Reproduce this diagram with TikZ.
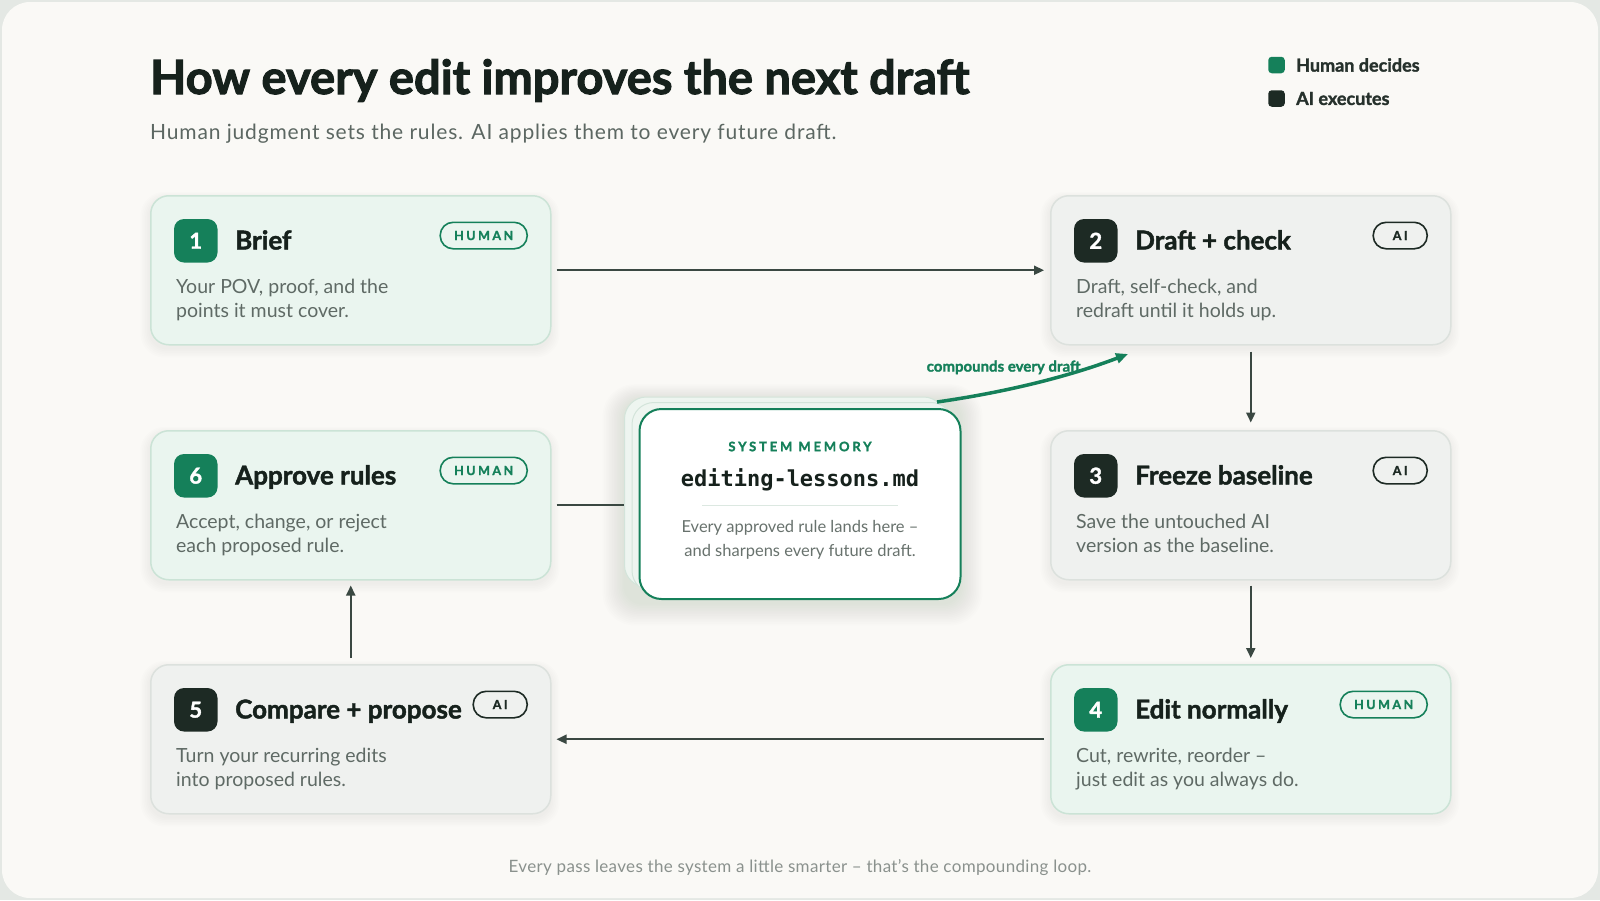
\documentclass[tikz,border=0pt]{standalone}
\usepackage{fontspec}
\setmainfont{Lato}
\setmonofont{DejaVu Sans Mono}
\newfontfamily\heavytitle{Lato}[BoldFeatures={FakeBold=2.2}]
\newfontfamily\heavy{Lato}[BoldFeatures={FakeBold=1.6}]
\usetikzlibrary{arrows.meta,calc}
\definecolor{outerbg}{HTML}{E4E8E4}
\definecolor{pagebg}{HTML}{FAF9F6}
\definecolor{brandgreen}{HTML}{15805A}
\definecolor{inkdark}{HTML}{1D2A24}
\definecolor{arrowc}{HTML}{3A4842}
\definecolor{titlec}{HTML}{16211C}
\definecolor{greytext}{HTML}{5F6A65}
\definecolor{subc}{HTML}{5C6762}
\definecolor{hfill}{HTML}{EAF5EF}
\definecolor{hline}{HTML}{CBE3D6}
\definecolor{afill}{HTML}{EFF1EF}
\definecolor{aline}{HTML}{DCE1DD}
\definecolor{memback}{HTML}{EEF5F0}
\definecolor{membackline}{HTML}{D3E4DA}
\definecolor{divc}{HTML}{DCE8E1}
\definecolor{memtext}{HTML}{68726D}
\definecolor{footc}{HTML}{8A918D}
\definecolor{legc}{HTML}{26312C}
\definecolor{shadowc}{HTML}{3F6A55}

\tikzset{
  cardbase/.style={line width=1.5pt, rounded corners=18pt, minimum width=400pt, minimum height=149pt, inner sep=0pt},
  cardh/.style={cardbase, draw=hline, fill=hfill},
  carda/.style={cardbase, draw=aline, fill=afill},
  badgebase/.style={rounded corners=10pt, minimum size=43.5pt, inner sep=0pt, text=white,
    font=\heavy\fontsize{22pt}{22pt}\selectfont\bfseries},
  badgeh/.style={badgebase, fill=brandgreen},
  badgea/.style={badgebase, fill=inkdark},
  steptitle/.style={text=titlec, font=\heavy\fontsize{26pt}{26pt}\selectfont\bfseries, inner sep=0pt},
  stepdesc/.style={text=greytext, font=\fontsize{19.5pt}{20pt}\selectfont, inner sep=0pt},
  pillbase/.style={line width=1.6pt, rounded corners=13pt, minimum height=26.5pt, inner sep=0pt,
    font=\heavy\fontsize{12.5pt}{12.5pt}\selectfont\bfseries\addfontfeatures{LetterSpace=20}},
  pillh/.style={pillbase, draw=brandgreen, text=brandgreen, minimum width=87pt},
  pilla/.style={pillbase, draw=inkdark, text=inkdark, minimum width=54pt},
  flow/.style={draw=arrowc, line width=2.2pt, -{Triangle[length=10pt,width=9pt]}},
  flowplain/.style={draw=arrowc, line width=2.2pt},
  greenarrow/.style={draw=brandgreen, line width=3.5pt, -{Triangle[length=12pt,width=10pt]}},
  memlayer/.style={draw=membackline, fill=memback, line width=1pt, rounded corners=22pt,
    minimum width=321pt, minimum height=190pt, inner sep=0pt},
}
\def\pilltexth{HUMAN}
\def\pilltexta{AI}
% soft shadow under a card whose top-left corner is (#1,#2), size #3 x #4
\newcommand{\softshadow}[6]{%
  \foreach \k in {1,...,#5} {
    \fill[shadowc, opacity=#6, rounded corners=18pt+\k pt]
      (#1-\k*1.6, #2+4-\k*1.2) rectangle (#1+#3+\k*1.6, #2+#4+4+\k*1.6);
  }%
}
\newcommand{\stepcard}[8]{%
  \softshadow{#2}{#3}{400}{149}{6}{0.009}
  \node[card#4, anchor=north west] (#1) at (#2,#3) {};
  \node[badge#4] (#1n) at ($(#1.north west)+(45.75,45.75)$) {#5};
  \node[steptitle, anchor=base west] (#1t) at ($(#1.north west)+(85,54.5)$) {#6};
  \node[stepdesc, anchor=base west] (#1da) at ($(#1.north west)+(26,98.3)$) {#7};
  \node[stepdesc, anchor=base west] (#1db) at ($(#1.north west)+(26,122.3)$) {#8};
  \node[pill#4, anchor=north east] (#1p) at ($(#1.north east)+(-23.5,26.5)$) {\csname pilltext#4\endcsname};
}

\begin{document}
\begin{tikzpicture}[x=1pt,y=-1pt]
\useasboundingbox (0,0) rectangle (1600,900);
\fill[outerbg] (0,0) rectangle (1600,900);
\fill[pagebg, rounded corners=28pt] (2,2) rectangle (1598,898);

% title
\node[anchor=base west, inner sep=0pt, text=titlec, font=\heavytitle\fontsize{47pt}{47pt}\selectfont\bfseries] (title) at (150,94) {How every edit improves the next draft};
\node[anchor=base west, inner sep=0pt, text=subc, font=\fontsize{21pt}{21pt}\selectfont\addfontfeatures{LetterSpace=4}] (subtitle) at (150,139) {Human judgment sets the rules. AI applies them to every future draft.};

% legend
\node[fill=brandgreen, rounded corners=3.5pt, minimum size=16.5pt, inner sep=0pt] (legh) at (1276.5,65) {};
\node[anchor=west, inner sep=0pt, text=legc, font=\heavy\fontsize{18pt}{18pt}\selectfont\bfseries] (leght) at (1296,65) {Human decides};
\node[fill=inkdark, rounded corners=3.5pt, minimum size=16.5pt, inner sep=0pt] (lega) at (1276.5,98.5) {};
\node[anchor=west, inner sep=0pt, text=legc, font=\heavy\fontsize{18pt}{18pt}\selectfont\bfseries] (legat) at (1296,98.5) {AI executes};

% steps
\stepcard{b1}{150}{195}{h}{1}{Brief}{Your POV, proof, and the}{points it must cover.}
\stepcard{b2}{1050}{195}{a}{2}{Draft + check}{Draft, self-check, and}{redraft until it holds up.}
\stepcard{b3}{1050}{430}{a}{3}{Freeze baseline}{Save the untouched AI}{version as the baseline.}
\stepcard{b4}{1050}{664}{h}{4}{Edit normally}{Cut, rewrite, reorder –}{just edit as you always do.}
\stepcard{b5}{150}{664}{a}{5}{Compare + propose}{Turn your recurring edits}{into proposed rules.}
\stepcard{b6}{150}{430}{h}{6}{Approve rules}{Accept, change, or reject}{each proposed rule.}

% memory card
\softshadow{625}{397}{335}{202}{14}{0.007}
\node[memlayer] (memb2) at (785,492) {};
\node[memlayer] (memb1) at (792.5,497.5) {};
\node[draw=brandgreen, fill=white, line width=2pt, rounded corners=22pt, minimum width=321pt, minimum height=190pt, inner sep=0pt] (mem) at (800,504) {};
\node[text=brandgreen, inner sep=0pt, font=\heavy\fontsize{13pt}{13pt}\selectfont\bfseries\addfontfeatures{LetterSpace=22}] (memlabel) at (800,446.5) {SYSTEM MEMORY};
\node[text=titlec, inner sep=0pt, font=\ttfamily\bfseries\fontsize{22pt}{22pt}\selectfont] (memfile) at (800,480) {editing-lessons.md};
\draw[divc, line width=1.5pt] (702,505.7) -- (898,505.7);
\node[anchor=base, inner sep=0pt, text=memtext, font=\fontsize{16.5pt}{16.5pt}\selectfont] (memda) at (800,532.5) {Every approved rule lands here –};
\node[anchor=base, inner sep=0pt, text=memtext, font=\fontsize{16.5pt}{16.5pt}\selectfont] (memdb) at (800,556.5) {and sharpens every future draft.};

% connectors
\draw[flow, shorten <=5pt, shorten >=6pt] (b1.east) -- (b2.west);
\draw[flow, shorten <=6pt, shorten >=7.5pt] (b2.south) -- (b3.north);
\draw[flow, shorten <=5pt, shorten >=6pt] (b3.south) -- (b4.north);
\draw[flow, shorten <=6pt, shorten >=5pt] (b4.west) -- (b5.east);
\draw[flow, shorten <=6pt, shorten >=5pt] (b5.north) -- (b6.south);
\draw[flowplain, shorten <=5pt] (b6.east) -- (b6.east -| memb2.west);

% compounding arrow
\node[anchor=west, inner sep=0pt, text=brandgreen, font=\heavy\fontsize{15pt}{15pt}\selectfont\bfseries] (clabel) at (926.5,367.3) {compounds every draft};
\coordinate (cs) at (937,402);
\coordinate (ce) at (1128,354);
\draw[greenarrow] (cs) .. controls (1000,393) and (1065,378) .. (ce);

% footer
\node[anchor=base, inner sep=0pt, text=footc, font=\fontsize{17pt}{17pt}\selectfont\addfontfeatures{LetterSpace=2}] (footer) at (800,872) {Every pass leaves the system a little smarter – that’s the compounding loop.};
\end{tikzpicture}
\end{document}
